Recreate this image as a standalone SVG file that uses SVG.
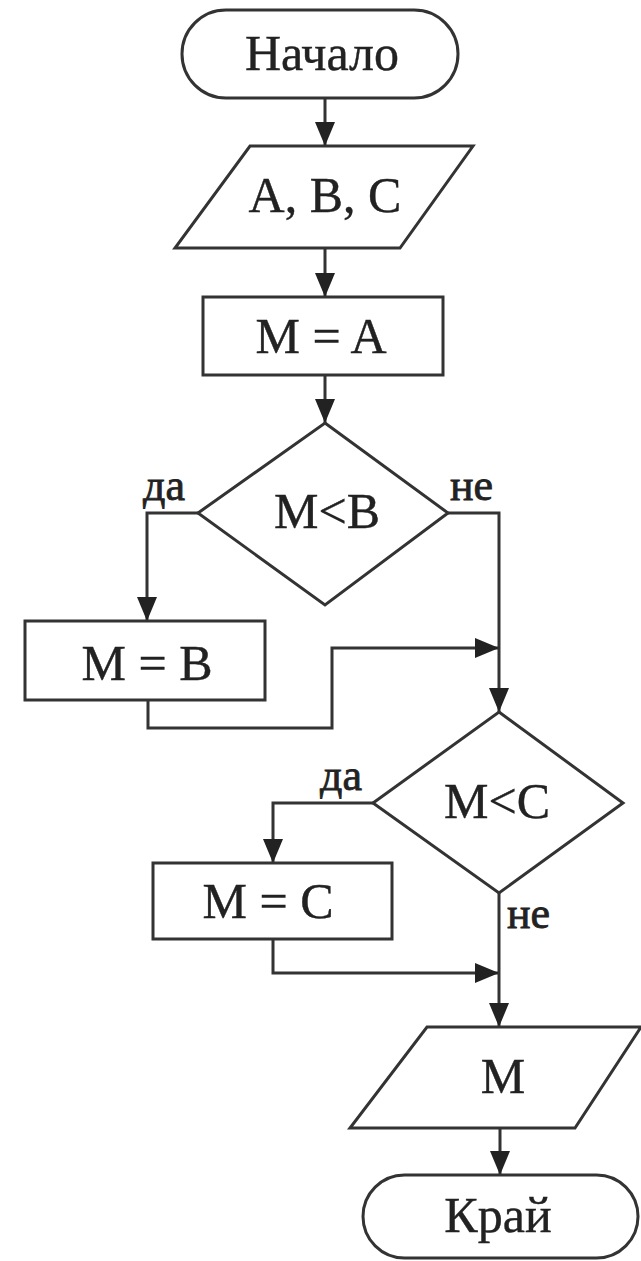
<svg xmlns="http://www.w3.org/2000/svg" width="641" height="1261" viewBox="0 0 641 1261">
<style>
.shape{fill:#fff;stroke:#333;stroke-width:3}
.t{font-family:"Liberation Serif","DejaVu Serif",serif;font-size:50px;fill:#222;stroke:#222;stroke-width:0.4;text-anchor:middle}
.lbl{font-family:"Liberation Serif","DejaVu Serif",serif;font-size:44px;fill:#222;stroke:#222;stroke-width:0.8}
.conn{fill:none;stroke:#333;stroke-width:3}
</style>
<defs>
<marker id="arr" viewBox="0 0 24 20" refX="24" refY="10" markerWidth="24" markerHeight="20" markerUnits="userSpaceOnUse" orient="auto">
<path d="M0,0 L24,10 L0,20 z" fill="#222"/>
</marker>
</defs>
<rect width="641" height="1261" fill="#fff"/>
<g id="connectors">
<path class="conn" d="M325,98 V146" marker-end="url(#arr)"/>
<path class="conn" d="M325,248 V297" marker-end="url(#arr)"/>
<path class="conn" d="M325,375 V423" marker-end="url(#arr)"/>
<path class="conn" d="M198,513 H147 V621" marker-end="url(#arr)"/>
<path class="conn" d="M448,513 H499 V712" marker-end="url(#arr)"/>
<path class="conn" d="M148,700 V728 H332 V648 H499" marker-end="url(#arr)"/>
<path class="conn" d="M373,803 H273 V863" marker-end="url(#arr)"/>
<path class="conn" d="M273,939 V973 H499" marker-end="url(#arr)"/>
<path class="conn" d="M499,893 V1027" marker-end="url(#arr)"/>
<path class="conn" d="M500,1128 V1175" marker-end="url(#arr)"/>
<text class="lbl" x="143" y="500">да</text>
<text class="lbl" x="450" y="500">не</text>
<text class="lbl" x="320" y="790">да</text>
<text class="lbl" x="507" y="928">не</text>
</g>
<g id="start">
<rect class="shape" x="182" y="10" width="276" height="88" rx="44"/>
<text class="t" x="322" y="70">Начало</text>
</g>
<g id="input">
<polygon class="shape" points="250,146 473,146 400,248 175,248"/>
<text class="t" x="325" y="212">A, B, C</text>
</g>
<g id="assignA">
<rect class="shape" x="203" y="297" width="240" height="78"/>
<text class="t" x="321" y="353">M = A</text>
</g>
<g id="condB">
<polygon class="shape" points="325,423 448,513 325,605 198,513"/>
<text class="t" x="327" y="528">M&lt;B</text>
</g>
<g id="assignB">
<rect class="shape" x="25" y="621" width="240" height="79"/>
<text class="t" x="147" y="680">M = B</text>
</g>
<g id="condC">
<polygon class="shape" points="499,712 623,803 499,893 373,803"/>
<text class="t" x="497" y="818">M&lt;C</text>
</g>
<g id="assignC">
<rect class="shape" x="153" y="863" width="239" height="76"/>
<text class="t" x="268" y="918">M = C</text>
</g>
<g id="output">
<polygon class="shape" points="427,1027 641,1027 575,1128 350,1128"/>
<text class="t" x="503" y="1093">M</text>
</g>
<g id="end">
<rect class="shape" x="363" y="1175" width="275" height="83" rx="41.5"/>
<text class="t" x="498" y="1232">Край</text>
</g>
</svg>
